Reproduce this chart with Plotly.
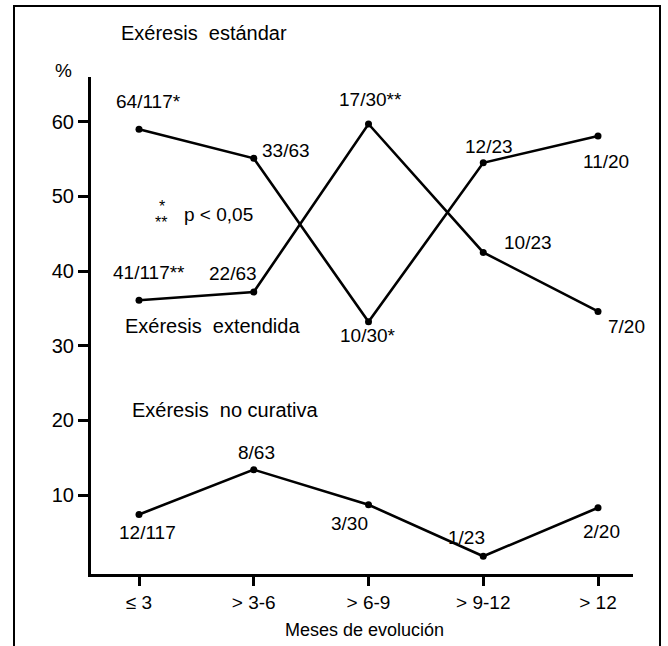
import plotly.graph_objects as go

# ---- data ----
categories = ["≤ 3", "> 3-6", "> 6-9", "> 9-12", "> 12"]
serie_a = [59.0, 55.1, 33.2, 54.5, 58.1]      # 64/117*, 33/63, 10/30*, 12/23, 11/20
serie_b = [36.1, 37.2, 59.7, 42.5, 34.6]      # 41/117**, 22/63, 17/30**, 10/23, 7/20
no_curativa = [7.4, 13.4, 8.7, 1.8, 8.3]      # 12/117, 8/63, 3/30, 1/23, 2/20
y_ticks = [10, 20, 30, 40, 50, 60]

W, H = 668, 646
L, R, T, B = 91, 633, 77, 574   # plot area in pixels
FONT = "Liberation Sans, Arial, Helvetica, sans-serif"

def P(px, py):
    return (px - L) / (R - L), (B - py) / (B - T)

x_idx = list(range(len(categories)))

fig = go.Figure()
for ys in (serie_a, serie_b, no_curativa):
    fig.add_trace(go.Scatter(
        x=x_idx, y=ys, mode="lines+markers",
        line=dict(color="black", width=2.6),
        marker=dict(color="black", size=7),
        showlegend=False, hoverinfo="skip"))

# text labels (text, pixel x centre, pixel y centre, size)
labels = [
    ("Exéresis  estándar", 204, 33, 20),
    ("%", 63, 71, 19),
    ("64/117*", 148, 101, 19),
    ("33/63", 286, 150, 19),
    ("17/30**", 370, 100, 19),
    ("12/23", 489, 146, 19),
    ("11/20", 606, 161, 19),
    ("p < 0,05", 218, 214, 19),
    ("41/117**", 149, 272, 19),
    ("22/63", 233, 273, 19),
    ("10/23", 528, 243, 19),
    ("Exéresis  extendida", 212, 326, 20),
    ("10/30*", 368, 335, 19),
    ("7/20", 626, 326, 19),
    ("Exéresis  no curativa", 225, 410, 20),
    ("8/63", 256, 452, 19),
    ("12/117", 147, 532, 19),
    ("3/30", 349, 523, 19),
    ("1/23", 466, 537, 19),
    ("2/20", 601, 531, 19),
    ("Meses de evolución", 364, 630, 18),
]
ann = []
for t, px, py, fs in labels:
    xp, yp = P(px, py)
    ann.append(dict(text=t, x=xp, y=yp, xref="paper", yref="paper",
                    xanchor="center", yanchor="middle", showarrow=False,
                    font=dict(family=FONT, size=fs, color="black")))
# asterisk stack of the legend note
for t, px, py in [("*", 162, 206), ("**", 161, 222)]:
    xp, yp = P(px, py)
    ann.append(dict(text=t, x=xp, y=yp, xref="paper", yref="paper",
                    xanchor="center", yanchor="middle", showarrow=False,
                    font=dict(family=FONT, size=16, color="black")))

# outer frame of the scanned figure (continues past the bottom edge of the page)
xl, yb = P(14, 660)
xr, yt = P(660, 6)
fig.add_shape(type="path", xref="paper", yref="paper",
              path=f"M {xl} {yb} L {xl} {yt} L {xr} {yt} L {xr} {yb}",
              line=dict(color="black", width=2), layer="above")

step = 114.75
x_lo = (L - 139) / step
x_hi = (R - 139) / step
py_per = 74.66
y0v = 569.7
y_lo = (y0v - B) / (py_per / 10)
y_hi = (y0v - T) / (py_per / 10)

fig.update_layout(
    width=W, height=H,
    margin=dict(l=L, r=W - R, t=T, b=H - B, pad=0),
    paper_bgcolor="white", plot_bgcolor="white",
    annotations=ann,
    font=dict(family=FONT, size=19, color="black"),
    xaxis=dict(range=[x_lo, x_hi], tickmode="array", tickvals=x_idx, ticktext=categories,
               showline=True, linecolor="black", linewidth=3, ticks="outside",
               ticklen=9, tickwidth=3, tickcolor="black", showgrid=False, zeroline=False,
               tickfont=dict(family=FONT, size=19, color="black")),
    yaxis=dict(range=[y_lo, y_hi], tickmode="array", tickvals=y_ticks,
               showline=True, linecolor="black", linewidth=3, ticks="outside",
               ticklen=10, tickwidth=3, tickcolor="black", showgrid=False, zeroline=False,
               tickfont=dict(family=FONT, size=20, color="black")),
)

fig.write_html("out.html", config={"displayModeBar": False, "staticPlot": True},
               post_script="document.body.style.margin='0';document.body.style.overflow='hidden';")
